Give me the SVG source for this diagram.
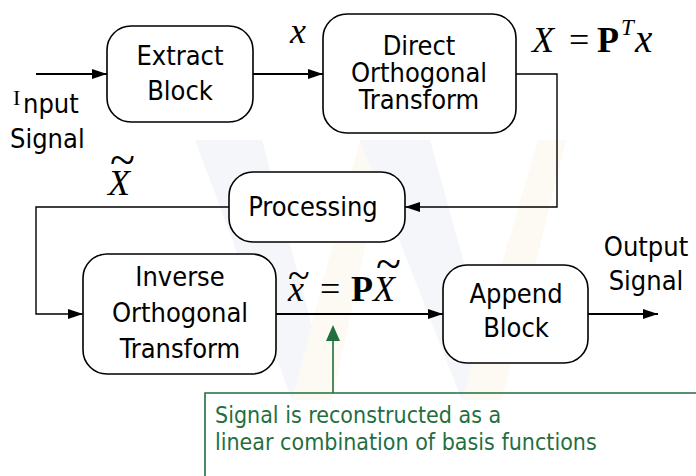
<svg xmlns="http://www.w3.org/2000/svg" width="696" height="476" viewBox="0 0 696 476">
<defs>
<marker id="ah" markerUnits="userSpaceOnUse" markerWidth="16" markerHeight="12" refX="15" refY="5" orient="auto">
<path d="M0,0 L15,5 L0,10 z" fill="#000"/>
</marker>
<style>
.box{fill:#fff;stroke:#000;stroke-width:1.6}
.lbl{font-family:"DejaVu Sans Condensed","DejaVu Sans",sans-serif;font-size:27px;fill:#000;text-anchor:middle}
.lbl2{font-family:"DejaVu Sans Condensed","DejaVu Sans",sans-serif;font-size:27px;fill:#000}
.math{font-family:"Liberation Serif","Times New Roman",serif;font-size:36px;fill:#000}
.it{font-style:italic}
.bf{font-weight:bold}
.tl{font-style:normal}
.wire{fill:none;stroke:#000;stroke-width:1.4}
.wire2{fill:none;stroke:#000;stroke-width:2}
.note{font-family:"DejaVu Sans Condensed","DejaVu Sans",sans-serif;font-size:23px;fill:#1f6f3f}
</style>
</defs>
<rect width="696" height="476" fill="#fff"/>
<g id="watermark">
<polygon points="195,140 262,140 332,400 292,400" fill="#f5f6fa"/>
<polygon points="292,400 332,400 388,140 360,140" fill="#fdfaf4"/>
<polygon points="360,140 430,140 502,400 462,400" fill="#f5f6fa"/>
<polygon points="462,400 502,400 566,140 538,140" fill="#fdfaf4"/>
</g>
<g id="connectors">
<line class="wire2" x1="36" y1="74" x2="107" y2="74" marker-end="url(#ah)"/>
<line class="wire2" x1="253" y1="74" x2="323" y2="74" marker-end="url(#ah)"/>
<polyline class="wire" points="516,74 557,74 557,207 405,207" marker-end="url(#ah)"/>
<polyline class="wire" points="229,207 36,207 36,314 83,314" marker-end="url(#ah)"/>
<line class="wire2" x1="276" y1="314" x2="443" y2="314" marker-end="url(#ah)"/>
<line class="wire2" x1="588" y1="314" x2="658" y2="314" marker-end="url(#ah)"/>
<line x1="333" y1="393" x2="333" y2="340" stroke="#1f6f3f" stroke-width="1.6"/>
<path d="M326,341 L333,325 L340,341 z" fill="#1f6f3f"/>
</g>
<g id="input-label">
<text x="13" y="105" font-family="Liberation Serif,serif" font-size="22" fill="#000">I</text>
<text class="lbl2" x="23" y="113">nput</text>
<text class="lbl2" x="10" y="148">Signal</text>
</g>
<g id="extract">
<rect class="box" x="107" y="26" width="146" height="96" rx="24"/>
<text class="lbl" x="180" y="65">Extract</text>
<text class="lbl" x="180" y="100">Block</text>
</g>
<g id="direct">
<rect class="box" x="323" y="14" width="193" height="119" rx="24"/>
<text class="lbl" x="419" y="55">Direct</text>
<text class="lbl" x="419" y="82">Orthogonal</text>
<text class="lbl" x="419" y="109">Transform</text>
</g>
<g id="processing">
<rect class="box" x="229" y="172" width="176" height="70" rx="24"/>
<text class="lbl" x="313" y="216">Processing</text>
</g>
<g id="inverse">
<rect class="box" x="83" y="254" width="193" height="120" rx="24"/>
<text class="lbl" x="180" y="286">Inverse</text>
<text class="lbl" x="180" y="322">Orthogonal</text>
<text class="lbl" x="180" y="358">Transform</text>
</g>
<g id="append">
<rect class="box" x="443" y="265" width="145" height="98" rx="24"/>
<text class="lbl" x="516" y="303">Append</text>
<text class="lbl" x="516" y="337">Block</text>
</g>
<g id="output-label">
<text class="lbl" x="646" y="256">Output</text>
<text class="lbl" x="646" y="290">Signal</text>
</g>
<g id="math-labels">
<text class="math it" x="290" y="43">x</text>
<text class="math it" x="532" y="52">X</text>
<text class="math" x="569" y="52">=</text>
<text class="math bf" x="597" y="52">P</text>
<text class="math it" x="621" y="35" style="font-size:23px">T</text>
<text class="math it" x="635" y="52" style="font-size:39px">x</text>
<text class="math it" x="108" y="195">X<tspan class="tl" dx="-20" dy="-20" style="font-size:46px">~</tspan></text>
<text class="math it" x="288" y="301">x<tspan class="tl" dx="-16" dy="-12" style="font-size:40px">~</tspan></text>
<text class="math" x="320" y="301">=</text>
<text class="math bf" x="351" y="301">P</text>
<text class="math it" x="373" y="301">X<tspan class="tl" dx="-19" dy="-22" style="font-size:46px">~</tspan></text>
</g>
<g id="note">
<polyline points="205,476 205,393 696,393" fill="none" stroke="#1f6f3f" stroke-width="1.6"/>
<text class="note" x="215" y="423">Signal is reconstructed as a</text>
<text class="note" x="215" y="450">linear combination of basis functions</text>
</g>
</svg>
